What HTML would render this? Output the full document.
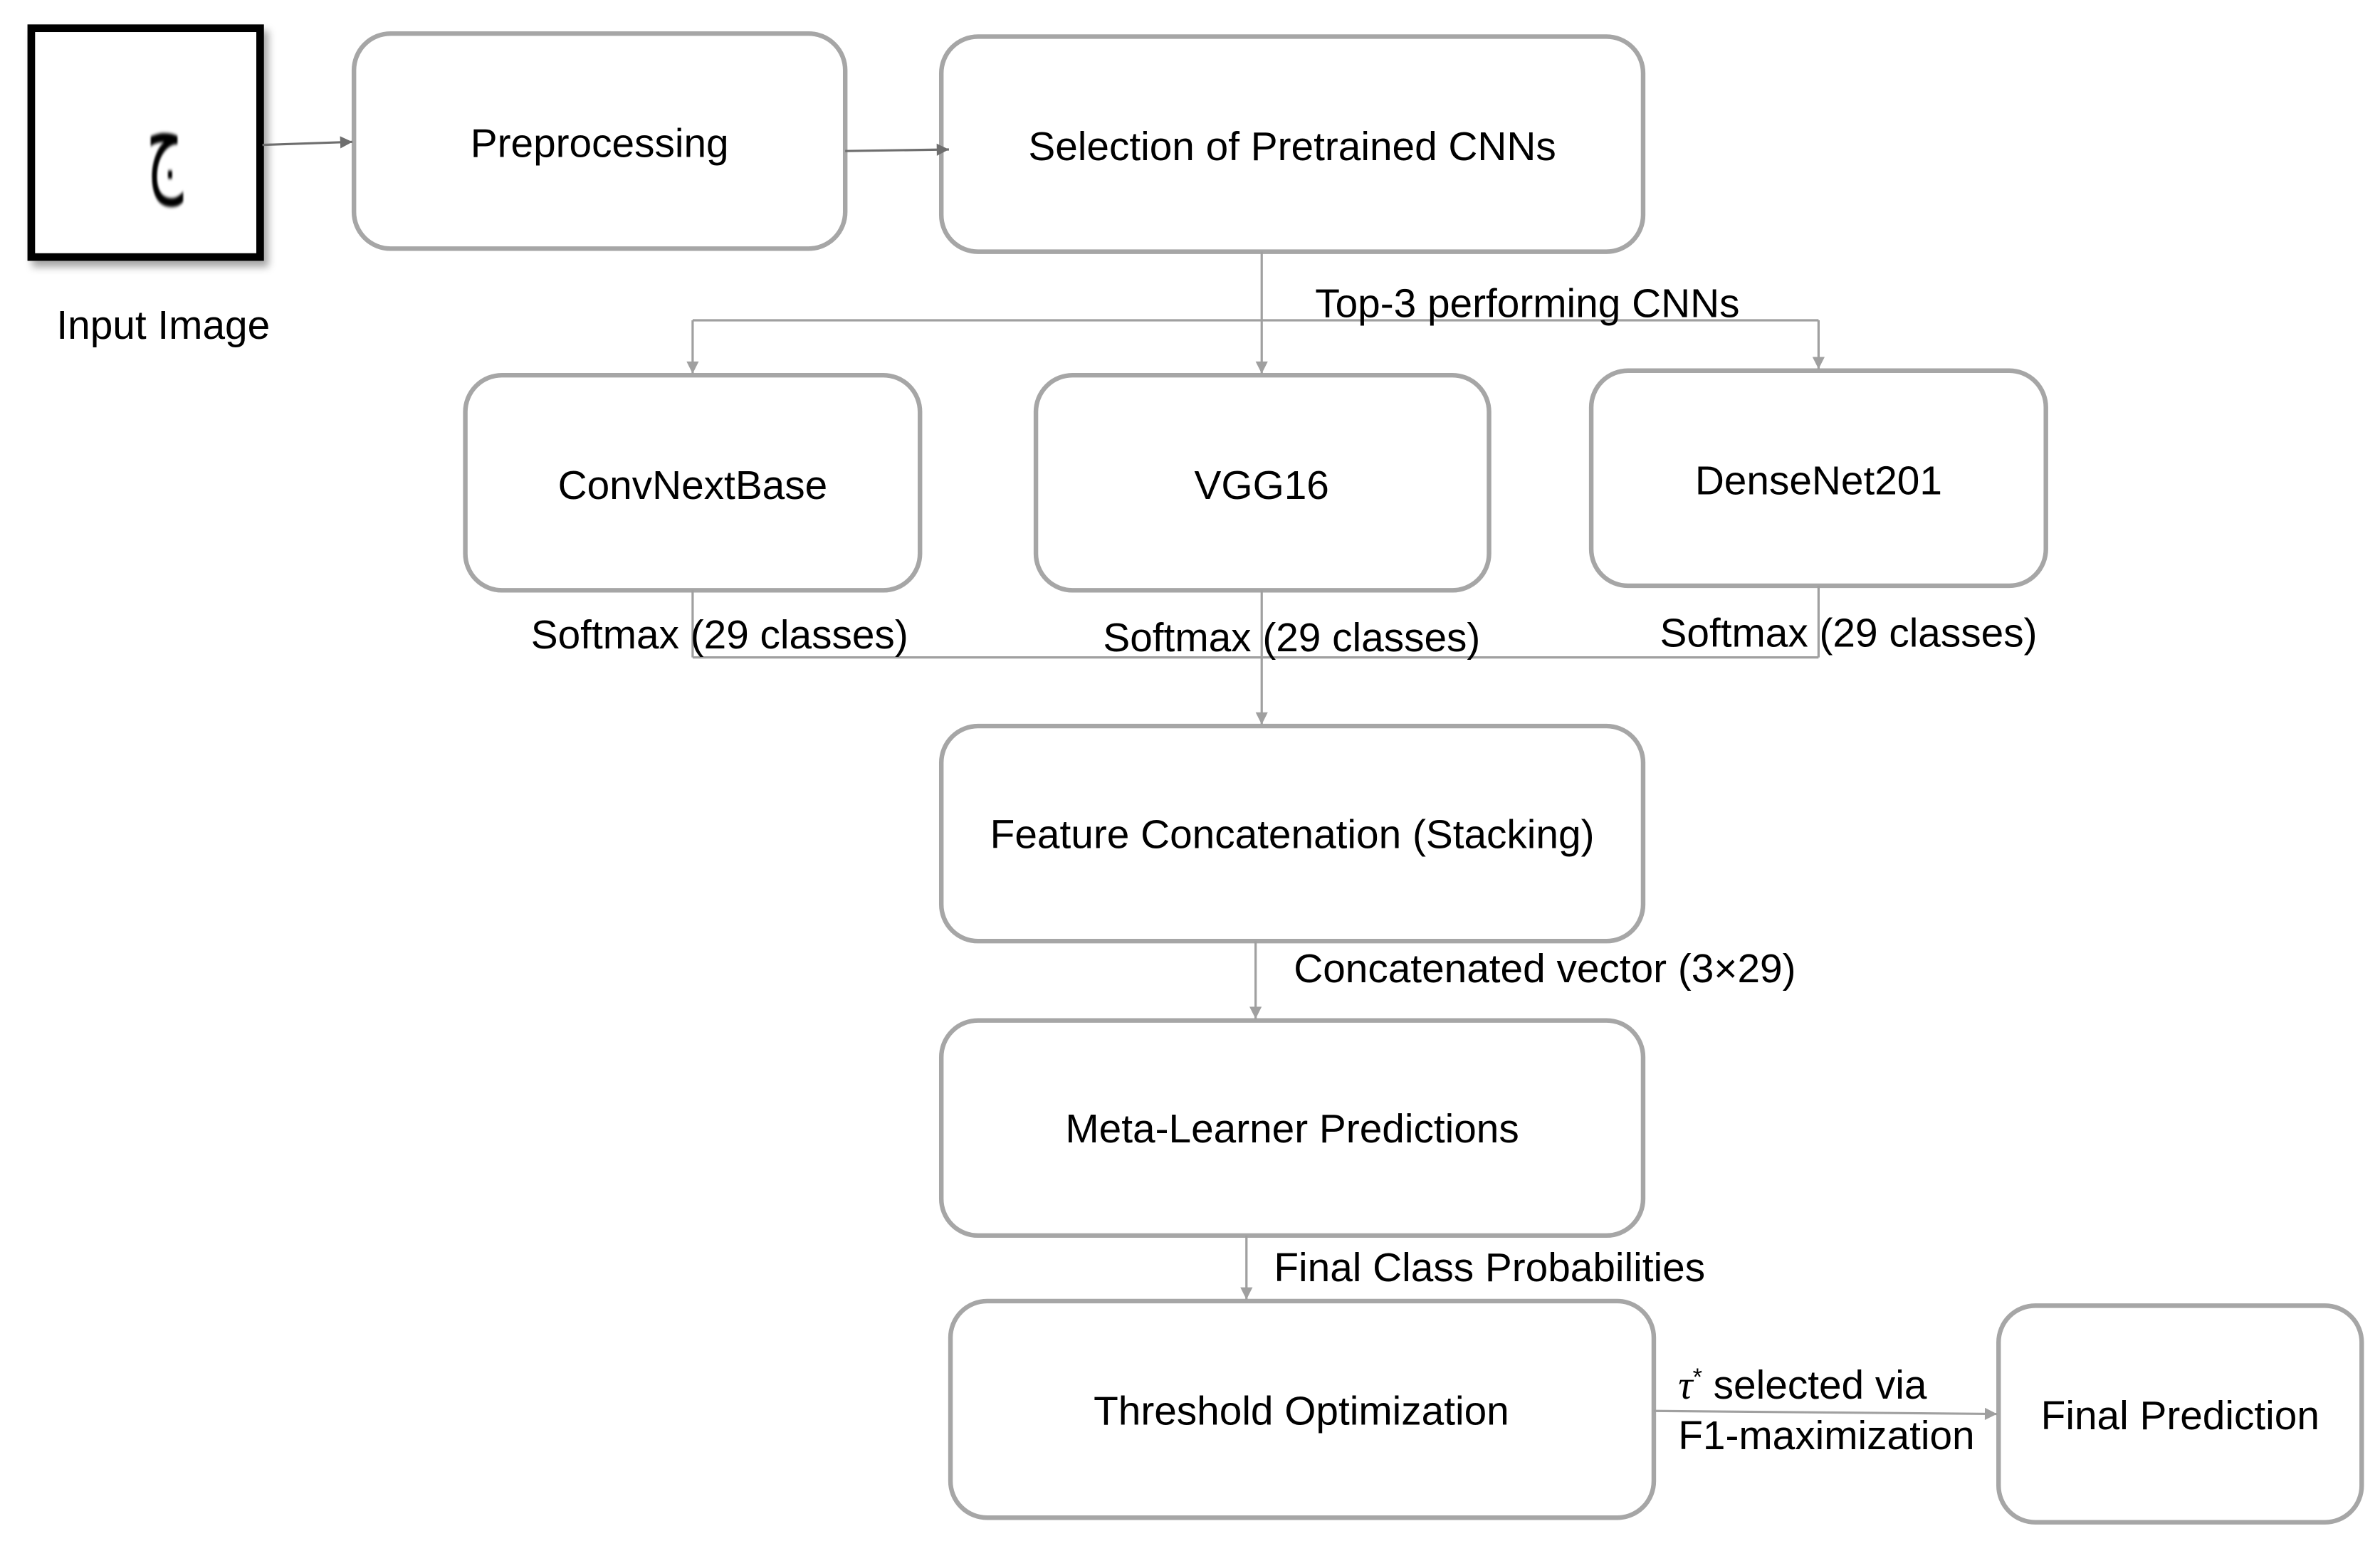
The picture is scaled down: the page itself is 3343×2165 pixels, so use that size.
<!DOCTYPE html>
<html><head><meta charset="utf-8"><style>
html,body{margin:0;padding:0;background:#fff;}
svg{display:block;}
text{font-family:"Liberation Sans",Arial,sans-serif;fill:#000;}
</style></head><body>
<svg width="3343" height="2165" viewBox="0 0 1560 1010.27" xmlns="http://www.w3.org/2000/svg">
<defs>
<marker id="a" viewBox="0 0 10 10" refX="10" refY="5" markerWidth="10" markerHeight="8" markerUnits="userSpaceOnUse" orient="auto"><path d="M0,0 L10,5 L0,10 z" fill="#a0a0a0"/></marker>
<marker id="d" viewBox="0 0 10 10" refX="10" refY="5" markerWidth="10" markerHeight="8" markerUnits="userSpaceOnUse" orient="auto"><path d="M0,0 L10,5 L0,10 z" fill="#6e6e6e"/></marker>
<filter id="sh" x="-10%" y="-10%" width="130%" height="130%"><feDropShadow dx="3" dy="4" stdDeviation="2.5" flood-color="#000" flood-opacity="0.35"/></filter>
<filter id="bl"><feGaussianBlur stdDeviation="0.8"/></filter>
</defs>
<!-- input image -->
<rect x="20.5" y="18.5" width="150" height="150" fill="#fff" stroke="#000" stroke-width="5" filter="url(#sh)"/>
<text transform="translate(108,118) scale(0.75,1.45)" font-size="50" text-anchor="middle" filter="url(#bl)" style="font-family:'DejaVu Sans',sans-serif">ج</text>
<text x="107" y="222" font-size="26.5" text-anchor="middle">Input Image</text>

<g fill="#fff" stroke="#a6a6a6" stroke-width="3">
<rect x="232" y="22" width="322" height="141" rx="24"/>
<rect x="617" y="24" width="460" height="141" rx="24"/>
<rect x="305" y="246" width="298" height="141" rx="24"/>
<rect x="679" y="246" width="297" height="141" rx="24"/>
<rect x="1043" y="243" width="298" height="141" rx="24"/>
<rect x="617" y="476" width="460" height="141" rx="24"/>
<rect x="617" y="669" width="460" height="141" rx="24"/>
<rect x="623" y="853" width="461" height="142" rx="24"/>
<rect x="1310" y="856" width="238" height="142" rx="24"/>
</g>

<g font-size="26.5" text-anchor="middle">
<text x="393" y="103">Preprocessing</text>
<text x="847" y="105">Selection of Pretrained CNNs</text>
<text x="454" y="327">ConvNextBase</text>
<text x="827" y="327">VGG16</text>
<text x="1192" y="324">DenseNet201</text>
<text x="847" y="556">Feature Concatenation (Stacking)</text>
<text x="847" y="749">Meta-Learner Predictions</text>
<text x="853" y="934">Threshold Optimization</text>
<text x="1429" y="937">Final Prediction</text>
</g>

<!-- connectors -->
<g fill="none" stroke-width="1.5">
<line x1="172" y1="95" x2="231" y2="93" stroke="#6e6e6e" marker-end="url(#d)"/>
<line x1="554" y1="99" x2="622" y2="98" stroke="#6e6e6e" marker-end="url(#d)"/>
<g stroke="#a0a0a0">
<line x1="827" y1="165" x2="827" y2="245" marker-end="url(#a)"/>
<line x1="454" y1="210" x2="1192" y2="210"/>
<line x1="454" y1="210" x2="454" y2="245" marker-end="url(#a)"/>
<line x1="1192" y1="210" x2="1192" y2="242" marker-end="url(#a)"/>
<line x1="454" y1="387" x2="454" y2="431"/>
<line x1="827" y1="387" x2="827" y2="431"/>
<line x1="1192" y1="384" x2="1192" y2="431"/>
<line x1="454" y1="431" x2="1192" y2="431"/>
<line x1="827" y1="431" x2="827" y2="475" marker-end="url(#a)"/>
<line x1="823" y1="617" x2="823" y2="668" marker-end="url(#a)"/>
<line x1="817" y1="810" x2="817" y2="852" marker-end="url(#a)"/>
<line x1="1084" y1="925" x2="1309" y2="927" marker-end="url(#a)"/>
</g>
</g>
<g font-size="26.5">
<text x="862" y="208">Top-3 performing CNNs</text>
<text x="348" y="425">Softmax (29 classes)</text>
<text x="723" y="427">Softmax (29 classes)</text>
<text x="1088" y="424">Softmax (29 classes)</text>
<text x="848" y="644">Concatenated vector (3×29)</text>
<text x="835" y="840">Final Class Probabilities</text>
<text x="1100" y="917"><tspan font-style="italic" style="font-family:'Liberation Serif',serif">τ</tspan><tspan font-size="16" dy="-9">*</tspan><tspan dy="9"> selected via</tspan></text>
<text x="1100" y="950">F1-maximization</text>
</g>
</svg>
</body></html>
